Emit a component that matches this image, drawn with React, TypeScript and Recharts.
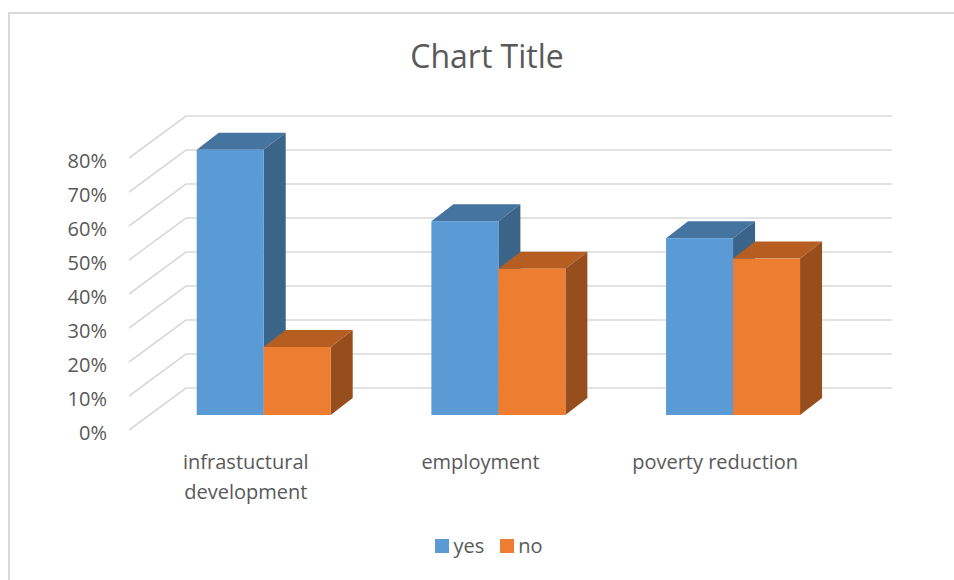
import { Bar, BarChart, CartesianGrid, Legend, XAxis, YAxis } from "recharts";

const categories = ["infrastuctural development", "employment", "poverty reduction"];
const yesValues = [0.78, 0.57, 0.52];
const noValues = [0.2, 0.43, 0.46];
const yTicks = [0, 0.1, 0.2, 0.3, 0.4, 0.5, 0.6, 0.7, 0.8];
const seriesOrder = ["yes", "no"];

const chartData = categories.map((name, i) => ({
  name,
  yes: yesValues[i],
  no: noValues[i],
}));

const FONT = "'Open Sans', sans-serif";
const TEXT_COLOR = "#595959";
const GRID_COLOR = "#d9d9d9";

// 3d offsets: bar depth, and wall depth in front of / behind the bar plane
const DEPTH_X = 22;
const DEPTH_Y = 17;
const FRONT_X = 129;
const FRONT_DY = 15;
const BACK_X = 186;
const BACK_DY = 27;
const BACK_RIGHT = 892;
const MAX_LINE_CHARS = 20;

const faces = {
  yes: { front: "#5b9bd5", top: "#4574a1", side: "#3a6488" },
  no: { front: "#ed7d31", top: "#b65e21", side: "#984e1c" },
};

function makeBox(key: "yes" | "no") {
  const c = faces[key];
  return (props: any) => {
    const { x, y, width, height } = props;
    if (width == null || height == null) return <g />;
    const dx = DEPTH_X;
    const dy = DEPTH_Y;
    return (
      <g>
        <polygon
          points={`${x},${y} ${x + width},${y} ${x + width + dx},${y - dy} ${x + dx},${y - dy}`}
          fill={c.top}
        />
        <polygon
          points={`${x + width},${y} ${x + width + dx},${y - dy} ${x + width + dx},${y + height - dy} ${x + width},${y + height}`}
          fill={c.side}
        />
        <rect x={x} y={y} width={width} height={height} fill={c.front} />
      </g>
    );
  };
}

function gridLine(props: any) {
  const y = props.y1;
  return (
    <path
      key={props.key ?? `g-${y}`}
      d={`M${FRONT_X},${y + FRONT_DY} L${BACK_X},${y - BACK_DY} L${BACK_RIGHT},${y - BACK_DY}`}
      stroke={GRID_COLOR}
      strokeWidth={1.6}
      fill="none"
    />
  );
}

function renderYTick(props: any) {
  const { y, payload } = props;
  return (
    <text
      x={107}
      y={y + 25}
      textAnchor="end"
      fill={TEXT_COLOR}
      fontSize={20}
      fontFamily={FONT}
    >
      {`${Math.round(payload.value * 100)}%`}
    </text>
  );
}

function renderXTick(props: any) {
  const { x, y, payload } = props;
  const label = String(payload.value);
  const lines = label.length > MAX_LINE_CHARS ? label.split(" ") : [label];
  return (
    <text
      x={x - 18}
      y={y + 54}
      textAnchor="middle"
      fill={TEXT_COLOR}
      fontSize={20}
      fontFamily={FONT}
    >
      {lines.map((ln, i) => (
        <tspan key={i} x={x - 18} dy={i === 0 ? 0 : 30}>
          {ln}
        </tspan>
      ))}
    </text>
  );
}

function LegendContent(props: any) {
  const items = [...(props.payload || [])].sort(
    (a: any, b: any) => seriesOrder.indexOf(a.value) - seriesOrder.indexOf(b.value)
  );
  return (
    <div
      style={{
        display: "flex",
        justifyContent: "center",
        gap: 16,
        fontFamily: FONT,
        fontSize: 20,
        color: TEXT_COLOR,
        paddingLeft: 24,
      }}
    >
      {items.map((it: any) => (
        <div key={it.value} style={{ display: "flex", alignItems: "center", gap: 4 }}>
          <span style={{ width: 14, height: 14, background: it.color, display: "inline-block" }} />
          <span>{it.value}</span>
        </div>
      ))}
    </div>
  );
}

export default function App() {
  return (
    <div
      style={{
        position: "absolute",
        left: 0,
        top: 0,
        width: 954,
        height: 580,
        background: "#fff",
        overflow: "hidden",
      }}
    >
      <div
        style={{
          position: "absolute",
          left: 8,
          top: 12,
          width: 980,
          height: 620,
          border: `2px solid ${GRID_COLOR}`,
        }}
      />
      <div
        style={{
          position: "absolute",
          left: 0,
          top: 34,
          width: 974,
          textAlign: "center",
          fontFamily: FONT,
          fontSize: 32,
          color: TEXT_COLOR,
        }}
      >
        Chart Title
      </div>
      <BarChart
        width={954}
        height={580}
        data={chartData}
        margin={{ top: 143, right: 103.5, bottom: 135, left: 86.5 }}
        barCategoryGap="21.4%"
        barGap={0}
        style={{ position: "absolute", left: 0, top: 0 }}
      >
        <CartesianGrid vertical={false} horizontal={gridLine} />
        <XAxis
          dataKey="name"
          height={30}
          axisLine={false}
          tickLine={false}
          tickSize={0}
          tickMargin={0}
          interval={0}
          tick={renderXTick}
        />
        <YAxis
          width={60}
          domain={[0, 0.8]}
          ticks={yTicks}
          axisLine={false}
          tickLine={false}
          tick={renderYTick}
        />
        <Legend
          layout="vertical"
          align="center"
          verticalAlign="middle"
          wrapperStyle={{ top: 532, left: 0, width: 954 }}
          content={<LegendContent />}
        />
        <Bar dataKey="yes" fill={faces.yes.front} shape={makeBox("yes")} isAnimationActive={false} />
        <Bar dataKey="no" fill={faces.no.front} shape={makeBox("no")} isAnimationActive={false} />
      </BarChart>
    </div>
  );
}
